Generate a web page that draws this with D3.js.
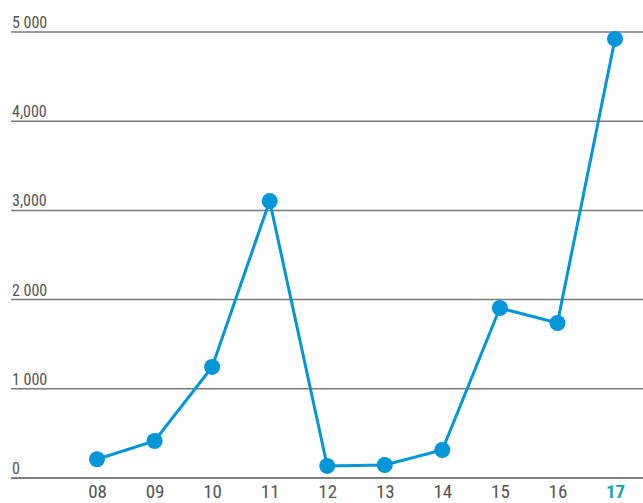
<!DOCTYPE html>
<html><head><meta charset="utf-8">
<script src="https://cdn.jsdelivr.net/npm/d3@7"></script>
<style>body{margin:0;background:#fff}svg{display:block}</style>
</head><body>
<svg id="c" width="643" height="503"></svg>
<script>
const years = ["08","09","10","11","12","13","14","15","16","17"];
const values = [210, 415, 1245, 3105, 135, 146, 314, 1906, 1738, 4922];
const yTicks = [0, 1000, 2000, 3000, 4000, 5000];
const yTickLabels = ["0", "1 000", "2 000", "3,000", "4,000", "5 000"];

const svg = d3.select("#c");
const font = "'Liberation Sans Narrow','Roboto Condensed','Roboto',sans-serif";
const x = d3.scalePoint().domain(years).range([97, 615]);
const y = d3.scaleLinear().domain([0, 5000]).range([478, 32]);

const grid = svg.append("g");
yTicks.forEach((t, i) => {
  grid.append("line").attr("x1", 11).attr("x2", 643)
    .attr("y1", y(t)).attr("y2", y(t))
    .attr("stroke", t === 0 ? "#555" : "#7a7a7a").attr("stroke-width", 1.5);
  grid.append("text").attr("x", 12).attr("y", y(t) - 4)
    .attr("font-family", font).attr("font-size", 16).attr("fill", "#555")
    .text(yTickLabels[i]);
});

const xAxis = svg.append("g").attr("transform", "translate(0,478)")
  .call(d3.axisBottom(x).tickSize(0).tickPadding(8));
xAxis.select(".domain").remove();
xAxis.selectAll("text").attr("font-family", font).attr("font-size", 19)
  .attr("fill", d => d === "17" ? "#1aa5b4" : "#555")
  .attr("font-weight", d => d === "17" ? "bold" : "normal")
  .attr("y", 20).attr("dy", 0);

const line = d3.line().x((d, i) => x(years[i])).y(d => y(d));
svg.append("path").datum(values).attr("d", line)
  .attr("fill", "none").attr("stroke", "#0396d8").attr("stroke-width", 3);
svg.selectAll("circle.pt").data(values).enter().append("circle")
  .attr("cx", (d, i) => x(years[i])).attr("cy", d => y(d)).attr("r", 8)
  .attr("fill", "#0396d8");
</script>
</body></html>
